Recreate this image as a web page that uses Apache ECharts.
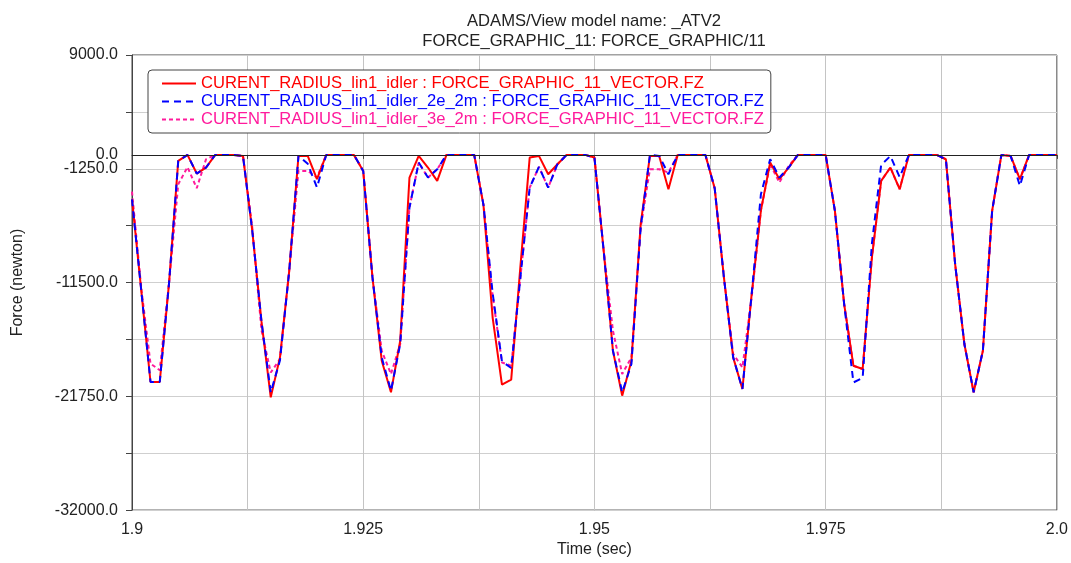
<!DOCTYPE html>
<html>
<head>
<meta charset="utf-8">
<script src="https://cdn.jsdelivr.net/npm/echarts@6/dist/echarts.min.js"></script>
<style>
  html, body { margin: 0; padding: 0; background: #fff; }
  #chart { width: 1071px; height: 563px; }
</style>
</head>
<body>
<div id="chart"></div>
<script>
// sample times (sec), one output step = 0.001 s
var times = [
  1.900, 1.901, 1.902, 1.903, 1.904, 1.905, 1.906, 1.907, 1.908, 1.909,
  1.910, 1.911, 1.912, 1.913, 1.914, 1.915, 1.916, 1.917, 1.918, 1.919,
  1.920, 1.921, 1.922, 1.923, 1.924, 1.925, 1.926, 1.927, 1.928, 1.929,
  1.930, 1.931, 1.932, 1.933, 1.934, 1.935, 1.936, 1.937, 1.938, 1.939,
  1.940, 1.941, 1.942, 1.943, 1.944, 1.945, 1.946, 1.947, 1.948, 1.949,
  1.950, 1.951, 1.952, 1.953, 1.954, 1.955, 1.956, 1.957, 1.958, 1.959,
  1.960, 1.961, 1.962, 1.963, 1.964, 1.965, 1.966, 1.967, 1.968, 1.969,
  1.970, 1.971, 1.972, 1.973, 1.974, 1.975, 1.976, 1.977, 1.978, 1.979,
  1.980, 1.981, 1.982, 1.983, 1.984, 1.985, 1.986, 1.987, 1.988, 1.989,
  1.990, 1.991, 1.992, 1.993, 1.994, 1.995, 1.996, 1.997, 1.998, 1.999,
  2.000
];

var seriesNames = [
  'CURENT_RADIUS_lin1_idler : FORCE_GRAPHIC_11_VECTOR.FZ',
  'CURENT_RADIUS_lin1_idler_2e_2m : FORCE_GRAPHIC_11_VECTOR.FZ',
  'CURENT_RADIUS_lin1_idler_3e_2m : FORCE_GRAPHIC_11_VECTOR.FZ'
];

// Force FZ (newton)
var fzIdler = [
  -4000, -12200, -20460, -20460, -11600, -540, 0, -1680, -1140, 0,
  0, 0, -90, -6800, -15000, -21840, -18240, -10440, -90, -90,
  -2190, 0, 0, 0, 0, -1440, -11040, -18540, -21390, -16740,
  -2040, -90, -1140, -2340, 0, 0, 0, 0, -4500, -14700,
  -20700, -20250, -10000, -240, -90, -1740, -840, 0, 0, 0,
  -240, -8640, -17640, -21690, -18540, -6240, -90, -90, -3090, 0,
  0, 0, 0, -3000, -11040, -18240, -21090, -12540, -5000, -690,
  -2190, -1140, 0, 0, 0, 0, -5040, -13440, -18990, -19290,
  -9240, -2340, -1140, -3090, 0, 0, 0, 0, -390, -9840,
  -17040, -21390, -17640, -5040, 0, -90, -2190, 0, 0, 0,
  0
];

var fzIdler2e = [
  -4000, -12200, -20460, -20460, -11600, -540, 0, -1680, -1140, 0,
  0, 0, -90, -6800, -15000, -21400, -18500, -10440, -90, -800,
  -2940, 0, 0, 0, 0, -1440, -11040, -18240, -21240, -17040,
  -4740, -690, -2040, -1290, 0, 0, 0, 0, -4500, -12500,
  -18600, -19200, -11000, -2940, -1080, -2940, -840, 0, 0, 0,
  -240, -8640, -17640, -21390, -18840, -6540, 0, -90, -1740, 0,
  0, 0, 0, -3000, -11040, -18240, -21090, -12540, -3540, -390,
  -2040, -1140, 0, 0, 0, 0, -5040, -13440, -20500, -20100,
  -8000, -900, -100, -2000, 0, 0, 0, 0, -390, -9840,
  -17040, -21390, -17640, -5040, 0, -90, -2790, 0, 0, 0,
  0
];

var fzIdler3e = [
  -3300, -12000, -18800, -19400, -11600, -2640, -1100, -3000, -400, 0,
  0, 0, -90, -6500, -15800, -19600, -18400, -10400, -1440, -1440,
  -2040, 0, 0, 0, 0, -1440, -11040, -17640, -19740, -17040,
  -4740, -690, -2040, -1290, 0, 0, 0, 0, -4500, -12700,
  -18700, -19000, -11000, -2940, -1080, -2940, -840, 0, 0, 0,
  -240, -8640, -15840, -19740, -18240, -6540, -1290, -1290, -1590, 0,
  0, 0, 0, -3000, -11040, -17940, -19140, -12800, -5000, -840,
  -2490, -990, 0, 0, 0, 0, -5040, -13440, -18990, -19290,
  -9240, -2340, -1140, -3090, 0, 0, 0, 0, -390, -9840,
  -17040, -21390, -17640, -5040, 0, -90, -2190, 0, 0, 0,
  0
];

var xTickLabels = ['1.9', '1.925', '1.95', '1.975', '2.0'];
var yTickLabels = ['-32000.0', '-21750.0', '-11500.0', '-1250.0', '9000.0'];

var colors = ['#ff0000', '#0000ff', '#ff1a9c'];
var FONT = 'Liberation Sans';

function pairs(ys) {
  var out = [];
  for (var i = 0; i < times.length; i++) {
    out.push([times[i], ys[i]]);
  }
  return out;
}

var myChart = echarts.init(document.getElementById('chart'));

var option = {
  animation: false,
  backgroundColor: '#fff',
  textStyle: { fontFamily: FONT },
  title: {
    text: 'ADAMS/View model name: _ATV2\nFORCE_GRAPHIC_11: FORCE_GRAPHIC/11',
    left: 594,
    top: 11,
    padding: 0,
    textAlign: 'center',
    textStyle: {
      fontFamily: FONT,
      fontSize: 16.6,
      fontWeight: 'normal',
      color: '#222',
      lineHeight: 20
    }
  },
  legend: {
    orient: 'vertical',
    left: 148,
    top: 70,
    padding: [5, 7, 5, 13],
    itemWidth: 34,
    itemHeight: 14,
    itemGap: 1,
    borderColor: '#444',
    borderWidth: 1,
    borderRadius: 4,
    backgroundColor: '#fff',
    itemStyle: { opacity: 0 },
    textStyle: { fontFamily: FONT, fontSize: 16.6 },
    data: [
      { name: seriesNames[0], textStyle: { color: colors[0] } },
      { name: seriesNames[1], textStyle: { color: colors[1] } },
      { name: seriesNames[2], textStyle: { color: colors[2] } }
    ]
  },
  grid: {
    left: 132,
    right: 11,
    top: 55,
    bottom: 50,
    show: true,
    borderColor: '#444',
    borderWidth: 1
  },
  xAxis: {
    type: 'value',
    min: 1.9,
    max: 2.0,
    interval: 0.0125,
    name: 'Time (sec)',
    nameLocation: 'middle',
    nameGap: 31,
    nameTextStyle: { fontFamily: FONT, fontSize: 16, color: '#222' },
    axisLine: { show: true, lineStyle: { color: '#444', width: 1 } },
    axisTick: { show: true, inside: false, length: 4, lineStyle: { color: '#444' } },
    axisLabel: {
      fontFamily: FONT,
      fontSize: 16,
      color: '#222',
      margin: 11,
      showMinLabel: true,
      showMaxLabel: true,
      formatter: function (v) {
        var idx = Math.round((v - 1.9) / 0.0125);
        return idx % 2 === 0 ? xTickLabels[idx / 2] : '';
      }
    },
    splitLine: { show: true, lineStyle: { color: '#c4c4c4', width: 1 } }
  },
  yAxis: {
    type: 'value',
    min: -32000,
    max: 9000,
    interval: 5125,
    name: 'Force (newton)',
    nameLocation: 'middle',
    nameGap: 106,
    nameTextStyle: { fontFamily: FONT, fontSize: 16, color: '#222' },
    axisLine: { show: true, lineStyle: { color: '#444', width: 1 } },
    axisTick: { show: true, inside: false, length: 6, lineStyle: { color: '#444' } },
    axisLabel: {
      fontFamily: FONT,
      fontSize: 16,
      color: '#222',
      margin: 14,
      formatter: function (v) {
        var idx = Math.round((v + 32000) / 5125);
        return idx % 2 === 0 ? yTickLabels[idx / 2] : '';
      }
    },
    splitLine: { show: true, lineStyle: { color: '#cfcfcf', width: 1 } }
  },
  series: [
    {
      name: seriesNames[0],
      type: 'line',
      data: pairs(fzIdler),
      symbol: 'none',
      color: colors[0],
      z: 3,
      lineStyle: { color: colors[0], width: 2, type: 'solid' },
      markLine: {
        silent: true,
        symbol: ['none', 'none'],
        lineStyle: { color: '#222', width: 1, type: 'solid' },
        label: {
          show: true,
          position: 'start',
          distance: 14,
          formatter: '0.0',
          fontFamily: FONT,
          fontSize: 16,
          color: '#222'
        },
        data: [{ yAxis: 0 }]
      }
    },
    {
      name: seriesNames[1],
      type: 'line',
      data: pairs(fzIdler2e),
      symbol: 'none',
      color: colors[1],
      z: 4,
      lineStyle: { color: colors[1], width: 2, type: [7, 5] }
    },
    {
      name: seriesNames[2],
      type: 'line',
      data: pairs(fzIdler3e),
      symbol: 'none',
      color: colors[2],
      z: 2,
      lineStyle: { color: colors[2], width: 2, type: [4, 3] }
    }
  ]
};

myChart.setOption(option);
</script>
</body>
</html>
